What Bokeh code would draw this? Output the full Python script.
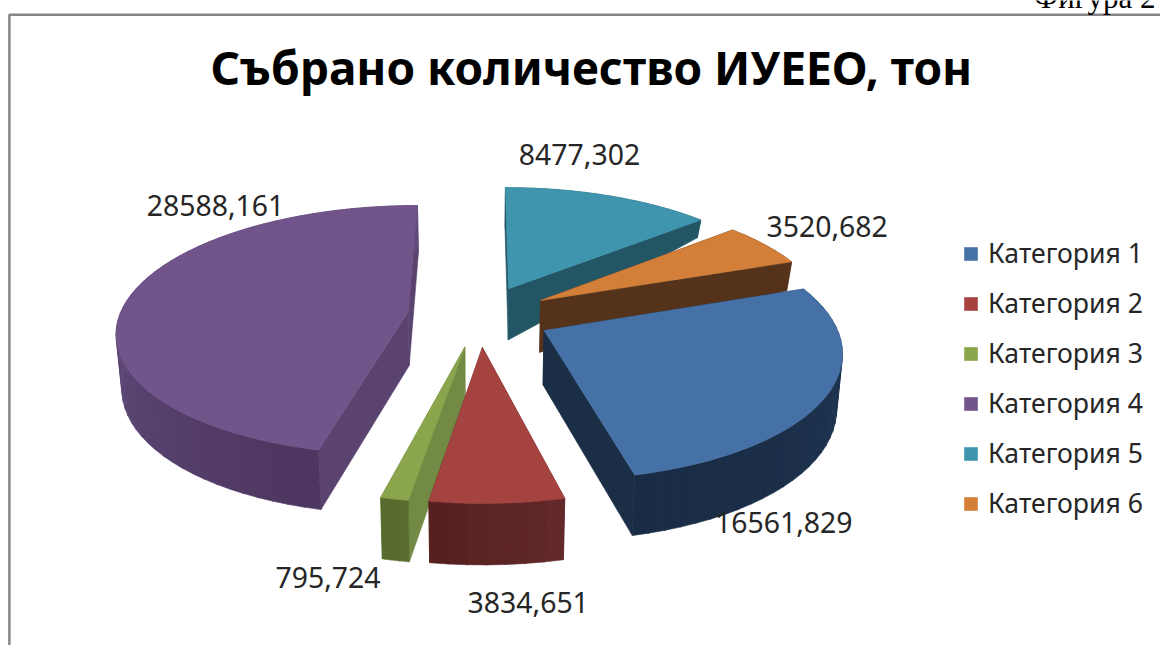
import math
from bokeh.plotting import figure
from bokeh.models import Range1d, ColumnDataSource, Legend, LegendItem
from bokeh.core.properties import value
from bokeh.embed import file_html
from bokeh.resources import INLINE

# ---- data ----
title_text = "Събрано количество ИУЕЕО, тон"
categories = ["Категория 1", "Категория 2", "Категория 3", "Категория 4", "Категория 5", "Категория 6"]
values = [16561.829, 3834.651, 795.724, 28588.161, 8477.302, 3520.682]
labels = ["16561,829", "3834,651", "795,724", "28588,161", "8477,302", "3520,682"]

# ---- style ----
top_colors = ["#4671a6", "#a54341", "#8aa54c", "#70548a", "#3f95ae", "#d37f3a"]
side_colors = ["#1a2e46", "#5c2523", "#728a43", "#5a436f", "#235665", "#55331a"]
rim_from = ["#1f3655", "#62282a", "#596d30", "#4d3760", "#235665", "#55331a"]
rim_to = ["#1a2c44", "#541f1f", "#566a2e", "#604a7a", "#235665", "#55331a"]
label_pos = [(794, 535), (535, 617), (332, 591), (218, 210), (587, 158), (838, 232)]
draw_order = [4, 5, 3, 0, 2, 1]

# ---- projection of the exploded 3-D pie ----
START = 70.0
CX, CY, RX, RY, K, E = 485.5, 323.0, 292.5, 126.0, 0.145, 0.25


def hex2rgb(c):
    return [int(c[i:i + 2], 16) for i in (1, 3, 5)]


def mix(a, b, t):
    t = max(0.0, min(1.0, t))
    ca, cb = hex2rgb(a), hex2rgb(b)
    return "#%02x%02x%02x" % tuple(round(x + (y - x) * t) for x, y in zip(ca, cb))


def top_pt(u, v):
    w = 1 / (1 - K * v)
    return CX + RX * u * w, CY + RY * v * w


def low_pt(u, v):
    x, y = top_pt(u, v)
    d = 55 + 6.5 * v - 41 * max(0, -v) * max(0, u)
    return x - (x - CX) * 0.016, y + d


total = sum(values)
spans = []
a = START
for val in values:
    b = a + val / total * 360.0
    spans.append((a, b))
    a = b


def slice_uv(i, th):
    s, e = spans[i]
    mid = math.radians((s + e) / 2)
    off_u, off_v = E * math.sin(mid), -E * math.cos(mid)
    if th is None:
        return off_u, off_v
    t = math.radians(th)
    return math.sin(t) + off_u, -math.cos(t) + off_v


p = figure(width=1160, height=645, x_range=Range1d(0, 1176), y_range=Range1d(661, 0),
           output_backend="svg", toolbar_location=None,
           min_border=0, outline_line_color=None, background_fill_color="white")
p.xaxis.visible = False
p.yaxis.visible = False
p.xgrid.visible = False
p.ygrid.visible = False

fig_xs, fig_ys, fig_cs = [], [], []
for i in draw_order:
    s, e = spans[i]
    apex = slice_uv(i, None)
    for th in (s, e):
        uv = slice_uv(i, th)
        q = [top_pt(*apex), top_pt(*uv), low_pt(*uv), low_pt(*apex)]
        fig_xs.append([c[0] for c in q])
        fig_ys.append([c[1] for c in q])
        fig_cs.append(side_colors[i])
    n = max(3, int((e - s) / 3))
    for k in range(n):
        t0 = s + (e - s) * k / n
        t1 = min(e, s + (e - s) * (k + 1) / n + 0.2)
        u0, u1 = slice_uv(i, t0), slice_uv(i, t1)
        q = [top_pt(*u0), top_pt(*u1), low_pt(*u1), low_pt(*u0)]
        fig_xs.append([c[0] for c in q])
        fig_ys.append([c[1] for c in q])
        span = 80.0 if i == 3 else (e - s)
        fig_cs.append(mix(rim_from[i], rim_to[i], (t0 - s) / span))
    pts = [top_pt(*apex)]
    n = max(12, int((e - s) * 2))
    for k in range(n + 1):
        pts.append(top_pt(*slice_uv(i, s + (e - s) * k / n)))
    fig_xs.append([c[0] for c in pts])
    fig_ys.append([c[1] for c in pts])
    fig_cs.append(top_colors[i])

p.patches("xs", "ys", source=ColumnDataSource(dict(xs=fig_xs, ys=fig_ys, c=fig_cs)),
          fill_color="c", line_color="c", line_width=0.6)

# frame of the embedded chart
p.line([9, 9, 1176], [661, 14.5, 14.5], line_color="#868686", line_width=2.5)

# legend
leg_rs = [p.rect([-50], [-50], width=1, height=1, fill_color=c, line_color=None) for c in top_colors]
leg = Legend(items=[LegendItem(label=n, renderers=[r]) for n, r in zip(categories, leg_rs)],
             location=(962, 124), orientation="vertical", border_line_color=None,
             background_fill_alpha=0, glyph_width=17, glyph_height=17, label_standoff=9,
             spacing=14, padding=0, margin=0, label_text_font="Noto Sans",
             label_text_font_size="26.6px", label_text_color="#262626")
p.add_layout(leg, "center")

# data labels
p.text([c[0] for c in label_pos], [c[1] for c in label_pos], text=labels,
       text_font=value("Noto Sans"), text_font_size=value("28.4px"), text_color="#262626",
       text_align="center", text_baseline="middle")
# title and figure tag
p.text([599], [68], text=[title_text], text_font=value("Noto Sans"), text_font_style="bold",
       text_font_size=value("46px"), text_color="black", text_align="center", text_baseline="middle")
p.text([1171], [-3], text=["Фигура 2"], text_font=value("Liberation Serif"),
       text_font_size=value("31px"), text_color="black", text_align="right", text_baseline="alphabetic")

open("out.html", "w").write(file_html(p, INLINE))
